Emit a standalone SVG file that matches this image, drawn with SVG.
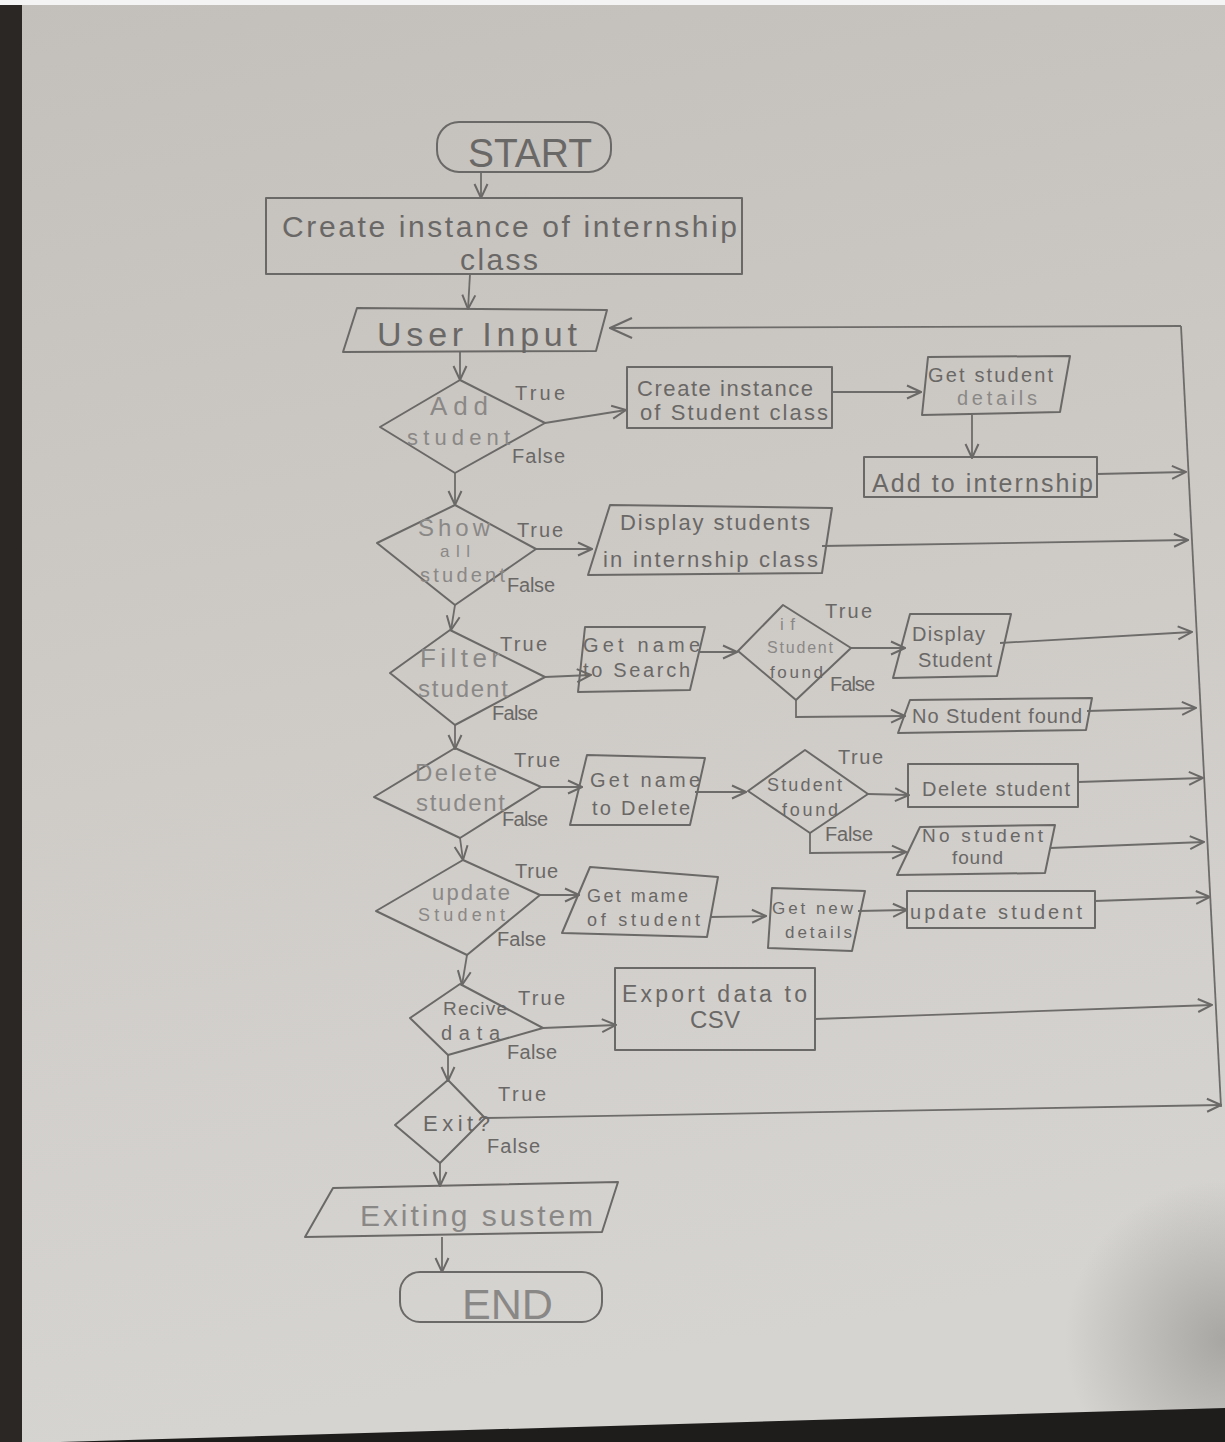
<svg xmlns="http://www.w3.org/2000/svg" width="1225" height="1442" viewBox="0 0 1225 1442">
<defs>
<linearGradient id="paper" x1="0" y1="0" x2="0.15" y2="1">
<stop offset="0" stop-color="#c3bfba"/>
<stop offset="0.55" stop-color="#cfccc8"/>
<stop offset="1" stop-color="#d6d4d1"/>
</linearGradient>
<radialGradient id="shade" cx="1225" cy="1340" r="160" gradientUnits="userSpaceOnUse">
<stop offset="0" stop-color="#a3a19e" stop-opacity="0.9"/>
<stop offset="1" stop-color="#a3a19e" stop-opacity="0"/>
</radialGradient>
<marker id="ah" viewBox="0 0 16 16" markerWidth="16" markerHeight="16" refX="15" refY="8" orient="auto" markerUnits="userSpaceOnUse">
<path d="M1,1.5 L15,8 L1,14.5" fill="none" stroke="#6b6967" stroke-width="2"/>
</marker>
<marker id="ahb" viewBox="0 0 24 24" markerWidth="24" markerHeight="24" refX="23" refY="12" orient="auto" markerUnits="userSpaceOnUse">
<path d="M1,2 L23,12 L1,22" fill="none" stroke="#6b6967" stroke-width="2.2"/>
</marker>
</defs>
<style>
.s{fill:none;stroke:#6b6967;stroke-width:2;stroke-linejoin:round}
.c{fill:none;stroke:#6e6c6a;stroke-width:1.8;marker-end:url(#ah)}
.l{fill:none;stroke:#6e6c6a;stroke-width:1.8}
.t{font-family:"Liberation Sans",Arial,sans-serif;fill:#6a6866;text-anchor:start}
.f{fill:#8a8886}
.lb{font-size:20px}
</style>
<rect x="0" y="0" width="1225" height="1442" fill="url(#paper)"/>
<rect x="1040" y="1160" width="185" height="260" fill="url(#shade)"/>
<rect x="0" y="0" width="1225" height="5" fill="#f4f4f4"/>
<rect x="0" y="5" width="22" height="1437" fill="#2b2725"/>
<polygon points="60,1442 1225,1408 1225,1442" fill="#1f1d1c"/>

<g id="connectors">
<line class="c" x1="481" y1="172" x2="481" y2="198"/>
<line class="c" x1="470" y1="274" x2="468" y2="309"/>
<line class="c" x1="460" y1="352" x2="460" y2="380"/>
<line class="c" x1="545" y1="423" x2="626" y2="410"/>
<line class="c" x1="832" y1="392" x2="921" y2="392"/>
<line class="c" x1="972" y1="415" x2="972" y2="458"/>
<line class="c" x1="1097" y1="474" x2="1186" y2="472"/>
<line class="c" x1="455" y1="473" x2="455" y2="505"/>
<line class="c" x1="536" y1="549" x2="592" y2="549"/>
<line class="c" x1="822" y1="546" x2="1188" y2="540"/>
<line class="c" x1="455" y1="605" x2="451" y2="630"/>
<line class="c" x1="545" y1="677" x2="591" y2="675" stroke-width="3"/>
<line class="c" x1="700" y1="652" x2="737" y2="652"/>
<line class="c" x1="851" y1="648" x2="905" y2="648"/>
<line class="c" x1="1000" y1="643" x2="1192" y2="632"/>
<polyline class="c" points="796,700 796,717 905,716"/>
<line class="c" x1="1087" y1="711" x2="1196" y2="708"/>
<line class="c" x1="455" y1="725" x2="455" y2="749"/>
<line class="c" x1="541" y1="787" x2="582" y2="787"/>
<line class="c" x1="695" y1="792" x2="746" y2="792"/>
<line class="c" x1="868" y1="794" x2="909" y2="795"/>
<line class="c" x1="1078" y1="782" x2="1203" y2="778"/>
<polyline class="c" points="810,833 810,853 906,852"/>
<line class="c" x1="1050" y1="848" x2="1204" y2="842"/>
<line class="c" x1="460" y1="838" x2="463" y2="860"/>
<line class="c" x1="540" y1="895" x2="579" y2="895"/>
<line class="c" x1="710" y1="917" x2="766" y2="916"/>
<line class="c" x1="858" y1="911" x2="907" y2="910"/>
<line class="c" x1="1095" y1="901" x2="1210" y2="897"/>
<line class="c" x1="467" y1="955" x2="462" y2="985"/>
<line class="c" x1="543" y1="1028" x2="616" y2="1025"/>
<line class="c" x1="815" y1="1019" x2="1212" y2="1005"/>
<line class="c" x1="448" y1="1055" x2="448" y2="1081"/>
<line class="c" x1="485" y1="1118" x2="1221" y2="1105"/>
<line class="c" x1="440" y1="1163" x2="440" y2="1186"/>
<line class="c" x1="442" y1="1237" x2="442" y2="1272"/>
<polyline class="l" points="1221,1107 1181,326"/>
<polyline class="l" points="1181,326 610,328" marker-end="url(#ahb)"/>
</g>

<g id="start">
<rect class="s" x="437" y="122" width="174" height="50" rx="22"/>
<text class="t" x="468" y="167" font-size="40" textLength="124" lengthAdjust="spacingAndGlyphs">START</text>
</g>

<g id="create-internship">
<rect class="s" x="266" y="198" width="476" height="76"/>
<text class="t" x="282" y="237" font-size="30" textLength="455" lengthAdjust="spacing">Create instance of internship</text>
<text class="t" x="460" y="270" font-size="30" textLength="78" lengthAdjust="spacing">class</text>
</g>

<g id="user-input">
<polygon class="s" points="357,308 607,310 596,351 343,352"/>
<text class="t" x="377" y="346" font-size="34" textLength="200" lengthAdjust="spacing">User Input</text>
</g>

<g id="add-student">
<polygon class="s" points="460,380 545,423 455,473 380,427"/>
<text class="t f" x="430" y="415" font-size="26" textLength="58" lengthAdjust="spacing">Add</text>
<text class="t f" x="407" y="445" font-size="22" textLength="103" lengthAdjust="spacing">student</text>
<text class="t lb" x="515" y="400" textLength="50" lengthAdjust="spacing">True</text>
<text class="t lb" x="512" y="463" textLength="53" lengthAdjust="spacing">False</text>
</g>

<g id="create-student">
<rect class="s" x="627" y="367" width="205" height="61"/>
<text class="t" x="637" y="396" font-size="22" textLength="176" lengthAdjust="spacing">Create instance</text>
<text class="t" x="640" y="420" font-size="22" textLength="188" lengthAdjust="spacing">of Student class</text>
</g>

<g id="get-details">
<polygon class="s" points="928,357 1070,356 1060,412 922,415"/>
<text class="t" x="928" y="382" font-size="20" textLength="125" lengthAdjust="spacing">Get student</text>
<text class="t f" x="957" y="405" font-size="20" textLength="80" lengthAdjust="spacing">details</text>
</g>

<g id="add-internship">
<rect class="s" x="864" y="457" width="233" height="40"/>
<text class="t" x="872" y="492" font-size="25" textLength="221" lengthAdjust="spacing">Add to internship</text>
</g>

<g id="show-all">
<polygon class="s" points="455,505 536,549 455,605 377,543"/>
<text class="t f" x="418" y="536" font-size="24" textLength="72" lengthAdjust="spacing">Show</text>
<text class="t f" x="440" y="557" font-size="17" textLength="30" lengthAdjust="spacing">all</text>
<text class="t f" x="420" y="582" font-size="20" textLength="85" lengthAdjust="spacing">student</text>
<text class="t lb" x="517" y="537" textLength="46" lengthAdjust="spacing">True</text>
<text class="t lb" x="507" y="592" textLength="48" lengthAdjust="spacing">False</text>
</g>

<g id="display-students">
<polygon class="s" points="610,505 832,508 822,573 588,575"/>
<text class="t" x="620" y="530" font-size="22" textLength="190" lengthAdjust="spacing">Display students</text>
<text class="t" x="603" y="567" font-size="22" textLength="215" lengthAdjust="spacing">in internship class</text>
</g>

<g id="filter-student">
<polygon class="s" points="450,630 545,677 455,725 390,673"/>
<text class="t f" x="420" y="667" font-size="26" textLength="80" lengthAdjust="spacing">Filter</text>
<text class="t f" x="418" y="697" font-size="24" textLength="90" lengthAdjust="spacing">student</text>
<text class="t lb" x="500" y="651" textLength="47" lengthAdjust="spacing">True</text>
<text class="t lb" x="492" y="720" textLength="46" lengthAdjust="spacing">False</text>
</g>

<g id="get-name-search">
<polygon class="s" points="585,627 705,627 690,690 578,692"/>
<text class="t" x="583" y="652" font-size="20" textLength="117" lengthAdjust="spacing">Get name</text>
<text class="t" x="583" y="677" font-size="20" textLength="107" lengthAdjust="spacing">to Search</text>
</g>

<g id="if-found">
<polygon class="s" points="783,605 851,648 796,700 738,651"/>
<text class="t f" x="780" y="630" font-size="17" textLength="15" lengthAdjust="spacing">if</text>
<text class="t f" x="767" y="653" font-size="16" textLength="66" lengthAdjust="spacing">Student</text>
<text class="t" x="770" y="678" font-size="17" textLength="53" lengthAdjust="spacing">found</text>
<text class="t lb" x="825" y="618" textLength="47" lengthAdjust="spacing">True</text>
<text class="t lb" x="830" y="691" textLength="45" lengthAdjust="spacing">False</text>
</g>

<g id="display-student">
<polygon class="s" points="910,614 1011,614 997,676 893,678"/>
<text class="t" x="912" y="641" font-size="20" textLength="73" lengthAdjust="spacing">Display</text>
<text class="t" x="918" y="667" font-size="20" textLength="74" lengthAdjust="spacing">Student</text>
</g>

<g id="no-student-found-1">
<polygon class="s" points="910,700 1092,698 1086,730 898,733"/>
<text class="t" x="912" y="723" font-size="20" textLength="170" lengthAdjust="spacing">No Student found</text>
</g>

<g id="delete-student">
<polygon class="s" points="455,748 541,787 460,838 374,797"/>
<text class="t f" x="415" y="781" font-size="24" textLength="82" lengthAdjust="spacing">Delete</text>
<text class="t f" x="416" y="811" font-size="24" textLength="89" lengthAdjust="spacing">student</text>
<text class="t lb" x="514" y="767" textLength="46" lengthAdjust="spacing">True</text>
<text class="t lb" x="502" y="826" textLength="46" lengthAdjust="spacing">False</text>
</g>

<g id="get-name-delete">
<polygon class="s" points="587,755 705,758 690,825 570,825"/>
<text class="t" x="590" y="787" font-size="20" textLength="110" lengthAdjust="spacing">Get name</text>
<text class="t" x="592" y="815" font-size="20" textLength="98" lengthAdjust="spacing">to Delete</text>
</g>

<g id="student-found">
<polygon class="s" points="805,750 868,794 810,833 748,791"/>
<text class="t" x="767" y="791" font-size="18" textLength="75" lengthAdjust="spacing">Student</text>
<text class="t" x="782" y="816" font-size="18" textLength="56" lengthAdjust="spacing">found</text>
<text class="t lb" x="838" y="764" textLength="45" lengthAdjust="spacing">True</text>
<text class="t lb" x="825" y="841" textLength="48" lengthAdjust="spacing">False</text>
</g>

<g id="delete-box">
<rect class="s" x="908" y="764" width="170" height="43"/>
<text class="t" x="922" y="796" font-size="20" textLength="148" lengthAdjust="spacing">Delete student</text>
</g>

<g id="no-student-found-2">
<polygon class="s" points="920,827 1055,825 1045,873 897,875"/>
<text class="t" x="922" y="842" font-size="19" textLength="121" lengthAdjust="spacing">No student</text>
<text class="t" x="952" y="864" font-size="19" textLength="51" lengthAdjust="spacing">found</text>
</g>

<g id="update-student">
<polygon class="s" points="463,860 540,895 467,955 376,911"/>
<text class="t f" x="432" y="900" font-size="22" textLength="78" lengthAdjust="spacing">update</text>
<text class="t f" x="418" y="921" font-size="18" textLength="87" lengthAdjust="spacing">Student</text>
<text class="t lb" x="515" y="878" textLength="43" lengthAdjust="spacing">True</text>
<text class="t lb" x="497" y="946" textLength="49" lengthAdjust="spacing">False</text>
</g>

<g id="get-name-update">
<polygon class="s" points="590,867 718,877 707,937 562,933"/>
<text class="t" x="587" y="902" font-size="18" textLength="101" lengthAdjust="spacing">Get mame</text>
<text class="t" x="587" y="926" font-size="18" textLength="113" lengthAdjust="spacing">of student</text>
</g>

<g id="get-new-details">
<polygon class="s" points="772,888 865,891 852,951 768,948"/>
<text class="t" x="772" y="914" font-size="17" textLength="81" lengthAdjust="spacing">Get new</text>
<text class="t" x="785" y="938" font-size="17" textLength="67" lengthAdjust="spacing">details</text>
</g>

<g id="update-box">
<rect class="s" x="907" y="891" width="188" height="37"/>
<text class="t" x="910" y="919" font-size="20" textLength="172" lengthAdjust="spacing">update student</text>
</g>

<g id="recive-data">
<polygon class="s" points="460,984 543,1028 448,1055 410,1018"/>
<text class="t" x="443" y="1015" font-size="19" textLength="64" lengthAdjust="spacing">Recive</text>
<text class="t" x="441" y="1040" font-size="20" textLength="59" lengthAdjust="spacing">data</text>
<text class="t lb" x="518" y="1005" textLength="47" lengthAdjust="spacing">True</text>
<text class="t lb" x="507" y="1059" textLength="50" lengthAdjust="spacing">False</text>
</g>

<g id="export-csv">
<rect class="s" x="615" y="968" width="200" height="82"/>
<text class="t" x="622" y="1002" font-size="23" textLength="185" lengthAdjust="spacing">Export data to</text>
<text class="t" x="690" y="1028" font-size="24" textLength="50" lengthAdjust="spacing">CSV</text>
</g>

<g id="exit">
<polygon class="s" points="448,1080 485,1118 440,1163 395,1125"/>
<text class="t" x="423" y="1131" font-size="22" textLength="67" lengthAdjust="spacing">Exit?</text>
<text class="t lb" x="498" y="1101" textLength="48" lengthAdjust="spacing">True</text>
<text class="t lb" x="487" y="1153" textLength="53" lengthAdjust="spacing">False</text>
</g>

<g id="exiting-system">
<polygon class="s" points="333,1188 618,1182 602,1232 305,1237"/>
<text class="t f" x="360" y="1226" font-size="30" textLength="233" lengthAdjust="spacing">Exiting sustem</text>
</g>

<g id="end">
<rect class="s" x="400" y="1272" width="202" height="50" rx="20"/>
<text class="t f" x="462" y="1319" font-size="42" textLength="91" lengthAdjust="spacingAndGlyphs">END</text>
</g>
</svg>
